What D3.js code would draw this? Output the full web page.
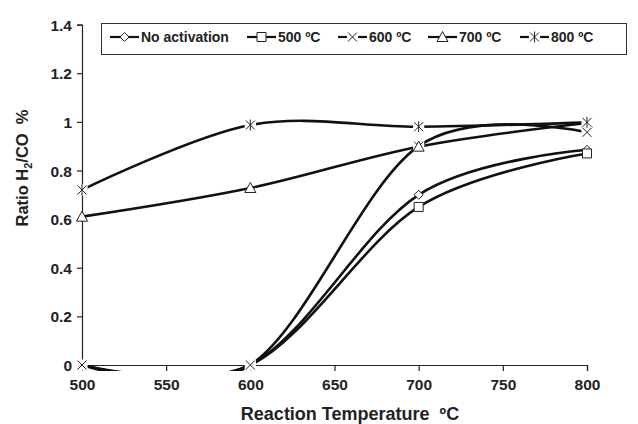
<!DOCTYPE html>
<html><head><meta charset="utf-8">
<script src="https://cdn.jsdelivr.net/npm/d3@7/dist/d3.min.js"></script>
<style>
body{margin:0;background:#fff;}
text{font-family:"Liberation Sans",Arial,sans-serif;font-weight:bold;fill:#222;}
</style></head><body>
<svg id="c" width="638" height="424"></svg>
<script>
const temps = [500, 600, 700, 800];
const xTicks = [500, 550, 600, 650, 700, 750, 800];
const yTicks = [0, 0.2, 0.4, 0.6, 0.8, 1, 1.2, 1.4];
const seriesNames = ["No activation", "500 ºC", "600 ºC", "700 ºC", "800 ºC"];
const noActivation = [0, 0, 0.70, 0.885];
const act500 = [0, 0, 0.65, 0.87];
const act600 = [0, 0, 0.90, 0.957];
const act700 = [0.61, 0.728, 0.898, 0.995];
const act800 = [0.72, 0.987, 0.98, 0.998];
const seriesValues = [noActivation, act500, act600, act700, act800];
const markerTypes = ["diamond", "square", "x", "triangle", "asterisk"];

const svg = d3.select("#c");
const x = d3.scaleLinear().domain([500, 800]).range([82, 587]);
const y = d3.scaleLinear().domain([0, 1.4]).range([365, 24.6]);

svg.append("defs").append("clipPath").attr("id", "clip")
  .append("rect").attr("x", 82).attr("y", 0).attr("width", 520).attr("height", 371);

// axes
const xAxis = svg.append("g").attr("transform", `translate(0,${y(0)})`)
  .call(d3.axisBottom(x).tickValues(xTicks).tickSize(6).tickPadding(8).tickFormat(d3.format("d")));
const yAxis = svg.append("g").attr("transform", `translate(${x(500)},0)`)
  .call(d3.axisLeft(y).tickValues(yTicks).tickSize(5).tickPadding(5).tickFormat(d => String(d)));
[xAxis, yAxis].forEach(a => {
  a.select(".domain").attr("stroke", "#222").attr("stroke-width", 1.2);
  a.selectAll(".tick line").attr("stroke", "#222").attr("stroke-width", 1.2);
  a.selectAll(".tick text").style("font-size", "15.5px").style("font-family", "'Liberation Sans',Arial,sans-serif").style("font-weight", "bold").attr("fill", "#222");
});
yAxis.selectAll(".tick text").attr("dy", "0.36em");

// titles
svg.append("text").attr("x", 350).attr("y", 420).attr("text-anchor", "middle")
  .style("font-size", "18px").text("Reaction Temperature\u00a0\u00a0ºC");
const yt = svg.append("text").attr("transform", "translate(28,168) rotate(-90)")
  .attr("text-anchor", "middle").style("font-size", "16.5px");
yt.append("tspan").text("Ratio H");
yt.append("tspan").attr("dy", 4).style("font-size", "11px").text("2");
yt.append("tspan").attr("dy", -4).text("/CO\u00a0\u00a0%");

function markerPath(type) {
  switch (type) {
    case "diamond": return "M0,-4.5L4.5,0L0,4.5L-4.5,0Z";
    case "square": return "M-4.5,-4.5H4.5V4.5H-4.5Z";
    case "x": return "M-4.5,-4.5L4.5,4.5M4.5,-4.5L-4.5,4.5";
    case "triangle": return "M0,-5.5L5.5,4.5H-5.5Z";
    case "asterisk": return "M-4.5,-4.5L4.5,4.5M4.5,-4.5L-4.5,4.5M0,-5.5V5.5";
  }
}
function drawMarker(sel, type, tx, ty) {
  const g = sel.append("g").attr("transform", `translate(${tx},${ty})`);
  if (type === "x" || type === "asterisk") {
    g.append("rect").attr("x", -5.6).attr("y", -5.6).attr("width", 11.2).attr("height", 11.2).attr("fill", "#fff");
  }
  g.append("path").attr("d", markerPath(type)).attr("fill", "#fff")
    .attr("stroke", "#222").attr("stroke-width", 1);
}

const line = d3.line().x(d => x(d[0])).y(d => y(d[1])).curve(d3.curveCardinal.tension(0));
const plot = svg.append("g");
seriesValues.forEach((vals, i) => {
  const pts = temps.map((t, j) => [t, vals[j]]);
  plot.append("path").attr("clip-path", "url(#clip)").attr("d", line(pts))
    .attr("fill", "none").attr("stroke", "#111").attr("stroke-width", 2.6);
});
seriesValues.forEach((vals, i) => {
  temps.forEach((t, j) => drawMarker(plot, markerTypes[i], x(t), y(vals[j])));
});

// legend
const lg = svg.append("g");
lg.append("rect").attr("x", 101.5).attr("y", 23.5).attr("width", 525).attr("height", 31)
  .attr("fill", "#fff").attr("stroke", "#333").attr("stroke-width", 1);
const legX = [110, 247, 338, 428, 520];
seriesNames.forEach((name, i) => {
  const g = lg.append("g").attr("transform", `translate(${legX[i]},37)`);
  g.append("line").attr("x1", 0).attr("x2", 29).attr("stroke", "#111").attr("stroke-width", 2.2);
  drawMarker(g, markerTypes[i], 14.5, 0);
  g.append("text").attr("x", 31).attr("y", 5).style("font-size", "14px").text(name);
});
</script></body></html>
